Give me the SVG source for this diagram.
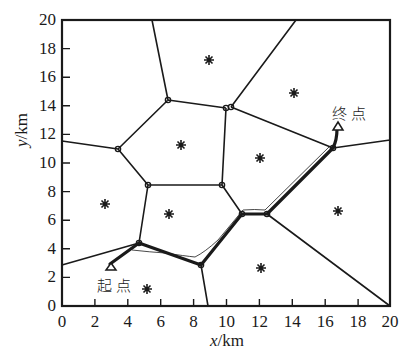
<svg xmlns="http://www.w3.org/2000/svg" width="402" height="349" viewBox="0 0 402 349">
<style>
.ax{fill:none;stroke:#1a1a1a;stroke-width:2.2}
.e{fill:none;stroke:#1a1a1a;stroke-width:1.6}
.p{fill:none;stroke:#1a1a1a;stroke-width:3.2;stroke-linejoin:round;stroke-linecap:round}
.s{fill:none;stroke:#1a1a1a;stroke-width:0.8}
.v{fill:none;stroke:#1a1a1a;stroke-width:1.4}
.st{fill:none;stroke:#1a1a1a;stroke-width:1.6}
.tk{fill:none;stroke:#1a1a1a;stroke-width:1.4}
.t{font-family:'Liberation Serif','Times New Roman',serif;font-size:17px;fill:#1a1a1a}
.c{font-family:'Noto Sans CJK SC',serif;font-size:15px;fill:#1a1a1a;font-weight:300;letter-spacing:4px}
.tri{fill:#fff;stroke:#1a1a1a;stroke-width:1.5}
</style>
<defs>
<path id="star" d="M0,-5V5M-5,0H5M-3.5,-3.5L3.5,3.5M-3.5,3.5L3.5,-3.5"/>
</defs>
<g id="axes">
<rect class="ax" x="62" y="20" width="328" height="286"/>
<path class="tk" d="M94.9,306v-7M127.8,306v-7M160.7,306v-7M193.6,306v-7M226.5,306v-7M259.4,306v-7M292.3,306v-7M325.2,306v-7M358.1,306v-7M62,277.4h8M62,248.8h8M62,220.2h8M62,191.6h8M62,163h8M62,134.4h8M62,105.8h8M62,77.2h8M62,48.6h8"/>
<g text-anchor="end">
<text class="t" font-family="Liberation Serif, serif" x="56" y="311">0</text><text class="t" font-family="Liberation Serif, serif" x="56" y="282.4">2</text><text class="t" font-family="Liberation Serif, serif" x="56" y="253.8">4</text><text class="t" font-family="Liberation Serif, serif" x="56" y="225.2">6</text><text class="t" font-family="Liberation Serif, serif" x="56" y="196.6">8</text><text class="t" font-family="Liberation Serif, serif" x="56" y="168">10</text><text class="t" font-family="Liberation Serif, serif" x="56" y="139.4">12</text><text class="t" font-family="Liberation Serif, serif" x="56" y="110.8">14</text><text class="t" font-family="Liberation Serif, serif" x="56" y="82.2">16</text><text class="t" font-family="Liberation Serif, serif" x="56" y="53.6">18</text><text class="t" font-family="Liberation Serif, serif" x="56" y="25">20</text>
</g>
<g text-anchor="middle">
<text class="t" font-family="Liberation Serif, serif" x="62" y="327">0</text><text class="t" font-family="Liberation Serif, serif" x="94.9" y="327">2</text><text class="t" font-family="Liberation Serif, serif" x="127.8" y="327">4</text><text class="t" font-family="Liberation Serif, serif" x="160.7" y="327">6</text><text class="t" font-family="Liberation Serif, serif" x="193.6" y="327">8</text><text class="t" font-family="Liberation Serif, serif" x="226.5" y="327">10</text><text class="t" font-family="Liberation Serif, serif" x="259.4" y="327">12</text><text class="t" font-family="Liberation Serif, serif" x="292.3" y="327">14</text><text class="t" font-family="Liberation Serif, serif" x="325.2" y="327">16</text><text class="t" font-family="Liberation Serif, serif" x="358.1" y="327">18</text><text class="t" font-family="Liberation Serif, serif" x="390" y="327">20</text>
<text class="t" font-family="Liberation Serif, serif" x="227" y="346"><tspan font-style="italic">x</tspan>/km</text>
<text class="t" font-family="Liberation Serif, serif" transform="translate(27,130) rotate(-90)"><tspan font-style="italic">y</tspan>/km</text>
</g>
</g>
<g id="connectors">
<path class="e" d="M152,20L168,100M168,100L226,108M168,100L118,149M118,149L62,141M118,149L148,185M148,185L222,185M148,185L139,243M222,185L226,108M231,107L296,20M231,107L333,148M333,148L390,140M222,185L242,214M267,214L390,306M201,265L208,306M139,243L62,265"/>
<path class="p" d="M110,264L139,243L201,265L242,214L267,214L333,148Q337,140 337,129"/>
<path class="s" d="M132,250Q150,252 165,253Q185,256 195,257Q205,252 218,240L243,210Q255,209 265,210L330,146"/>
</g>
<g id="vertices">
<circle class="v" cx="168" cy="100" r="2.6"/>
<circle class="v" cx="118" cy="149" r="2.6"/>
<circle class="v" cx="148" cy="185" r="2.6"/>
<circle class="v" cx="222" cy="185" r="2.6"/>
<circle class="v" cx="226" cy="108" r="2.6"/>
<circle class="v" cx="231" cy="107" r="2.6"/>
<circle class="v" cx="333" cy="148" r="2.6"/>
<circle class="v" cx="242" cy="214" r="2.6"/>
<circle class="v" cx="267" cy="214" r="2.6"/>
<circle class="v" cx="201" cy="265" r="2.6"/>
<circle class="v" cx="139" cy="243" r="2.6"/>
</g>
<g id="sites" class="st">
<use href="#star" x="209" y="60"/>
<use href="#star" x="294" y="93"/>
<use href="#star" x="181" y="145"/>
<use href="#star" x="260" y="158"/>
<use href="#star" x="105" y="204"/>
<use href="#star" x="169" y="214"/>
<use href="#star" x="338" y="211"/>
<use href="#star" x="261" y="268"/>
<use href="#star" x="147" y="289"/>
</g>
<g id="start">
<path class="tri" d="M111,263L116,270H106Z"/>
<text class="c" font-family="Noto Sans CJK SC, sans-serif" x="97" y="291">起点</text>
</g>
<g id="end">
<path class="tri" d="M338,122L343,130H333Z"/>
<text class="c" font-family="Noto Sans CJK SC, sans-serif" x="332" y="119">终点</text>
</g>
</svg>
